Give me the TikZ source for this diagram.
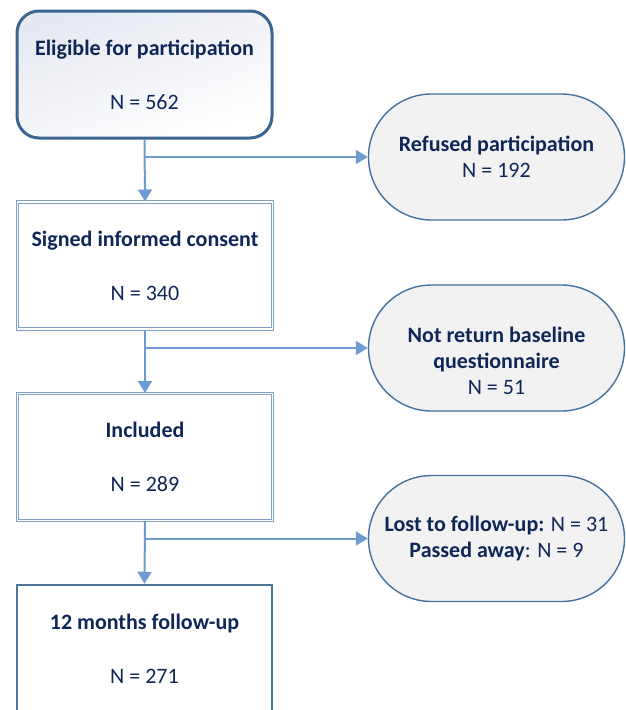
\documentclass[tikz,border=0pt]{standalone}
\usepackage{fontspec}
\setmainfont{Carlito}
\usetikzlibrary{arrows.meta,positioning}

\definecolor{navytext}{RGB}{14,38,88}
\definecolor{boxline}{RGB}{58,102,144}
\definecolor{dblline}{RGB}{128,160,200}
\definecolor{ovalline}{RGB}{68,114,160}
\definecolor{ovalfill}{RGB}{242,242,242}
\definecolor{arrowblue}{RGB}{110,156,210}
\definecolor{shadeblue}{RGB}{230,233,241}

\tikzset{
  stagebox/.style={rectangle, minimum width=255pt, minimum height=127pt,
    align=center, text=navytext, font=\fontsize{22}{26}\selectfont},
  outcome/.style={rectangle, rounded corners=63pt, draw=ovalline, line width=1.4pt,
    fill=ovalfill, minimum width=256pt, minimum height=126pt,
    align=center, text=navytext, font=\fontsize{22}{26}\selectfont},
  flow/.style={draw=arrowblue, line width=2pt, -{Triangle[width=14pt,length=12pt]}}
}

\begin{document}
\begin{tikzpicture}[x=1pt,y=-1pt]
  \useasboundingbox (0,0) rectangle (626,710);
  \clip (0,0) rectangle (626,710);

  % main stages
  \node[stagebox, draw=boxline, line width=3pt, rounded corners=22pt,
        top color=shadeblue, bottom color=white, shading angle=20]
        (elig) at (144.5,74.5) {\textbf{Eligible for participation}\\[28pt]N = 562};
  \node[stagebox, draw=dblline, double, double distance=1.6pt, line width=1pt]
        (signed) at (145,265.5) {\textbf{Signed informed consent}\\[28pt]N = 340};
  \node[stagebox, draw=dblline, double, double distance=1.6pt, line width=1pt]
        (incl) at (145,457) {\textbf{Included}\\[28pt]N = 289};
  \node[stagebox, draw=boxline!90!white, line width=2.5pt]
        (fup) at (144.5,648.5) {\textbf{12 months follow-up}\\[28pt]N = 271};

  % drop-outs
  \node[outcome] (refused) at (496.5,157) {\textbf{Refused participation}\\N = 192};
  \node[outcome] (notret) at (496.5,348)
        {\rule{0pt}{41pt}\textbf{Not return baseline}\\\textbf{questionnaire}\\N = 51};
  \node[outcome] (lost) at (496.5,538.5)
        {\textbf{Lost to follow-up:} N = 31\\\textbf{Passed away}: N = 9};

  \coordinate (b1) at (elig.south |- refused.west);
  \coordinate (b2) at (elig.south |- notret.west);
  \coordinate (b3) at (elig.south |- lost.west);

  \draw[flow] (elig.south) -- (signed.north);
  \draw[flow] (signed.south) -- (incl.north);
  \draw[flow] (incl.south) -- (fup.north);
  \draw[flow] (b1) -- (refused.west);
  \draw[flow] (b2) -- (notret.west);
  \draw[flow] (b3) -- (lost.west);
\end{tikzpicture}
\end{document}
